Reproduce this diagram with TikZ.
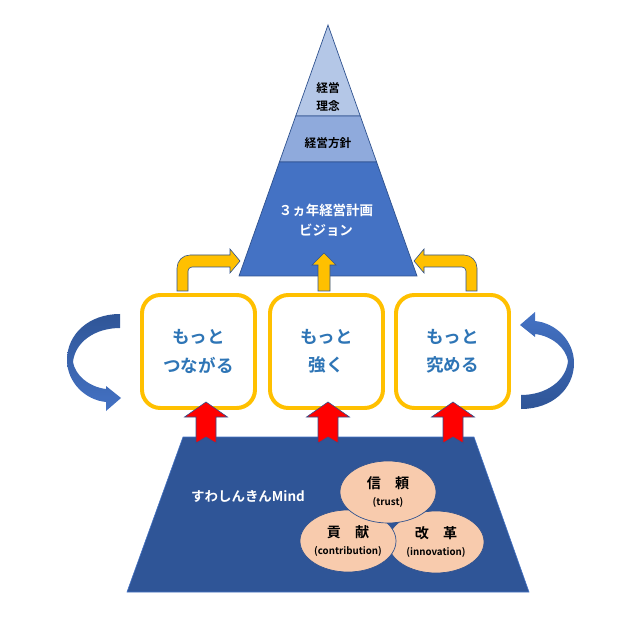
\documentclass[tikz,border=0pt]{standalone}
\usepackage{fontspec}
\newfontfamily\jp{Noto Sans CJK JP}[BoldFont={Noto Sans CJK JP Bold}]
\usetikzlibrary{calc,shapes.geometric}
\definecolor{topblue}{HTML}{B4C7E7}
\definecolor{midblue}{HTML}{8FAADC}
\definecolor{lowblue}{HTML}{4472C4}
\definecolor{navy}{HTML}{2F5597}
\definecolor{edgeblue}{HTML}{2F528F}
\definecolor{gold}{HTML}{FFC000}
\definecolor{boxtext}{HTML}{2E75B6}
\definecolor{peach}{HTML}{F8CBAD}
\tikzset{
  layer/.style={draw=edgeblue, line width=0.6pt},
  goalbox/.style={draw=gold, line width=3.4pt, fill=white, rounded corners=0.55cm,
    minimum width=3.39cm, minimum height=3.39cm, align=center, text=boxtext,
    font=\jp\bfseries\fontsize{15}{24}\selectfont},
  yarrow/.style={fill=gold, draw=edgeblue, line width=0.5pt},
  rarrow/.style={fill=red, draw=edgeblue, line width=0.5pt},
  mindball/.style={ellipse, fill=peach, draw=edgeblue, line width=0.6pt,
    minimum width=2.88cm, minimum height=1.86cm, inner sep=0pt, align=center,
    font=\jp\bfseries\fontsize{12}{14.5}\selectfont}
}
\newcommand\mindsub[1]{{\jp\bfseries\fontsize{8.3}{10}\selectfont #1}}
\begin{document}
\begin{tikzpicture}[x=0.03cm,y=-0.03cm]
\useasboundingbox (0,0) rectangle (640,623);
% base
\draw [fill=navy, draw=lowblue, line width=0.5pt] (183,437) -- (474,437) -- (529,592) -- (127,592) -- cycle;
\node [text=white, font=\jp\bfseries\fontsize{11.5}{14}\selectfont] (mind) at (248,496) {すわしんきんMind};
% pyramid
\coordinate (apex) at (328,25);
\coordinate (bl) at (239,276);
\coordinate (br) at (417,276);
\coordinate (l1) at ($(apex)!0.3625!(bl)$);
\coordinate (r1) at ($(apex)!0.3625!(br)$);
\coordinate (l2) at ($(apex)!0.5458!(bl)$);
\coordinate (r2) at ($(apex)!0.5458!(br)$);
\draw [layer, fill=topblue] (apex) -- (r1) -- (l1) -- cycle;
\draw [layer, fill=midblue] (l1) -- (r1) -- (r2) -- (l2) -- cycle;
\draw [layer, fill=lowblue] (l2) -- (r2) -- (br) -- (bl) -- cycle;
\node [font=\jp\bfseries\fontsize{10}{15.5}\selectfont, align=center] (rinen) at (328,97) {経営\\理念};
\node [font=\jp\bfseries\fontsize{10}{12}\selectfont] (hoshin) at (328,143) {経営方針};
\node [text=white, font=\jp\bfseries\fontsize{11.5}{17}\selectfont, align=center] (vision) at (326,220) {３ヵ年経営計画\\ビジョン};
% yellow arrows
\draw [yarrow] (177,291) -- (177,268) .. controls (177,260.8) and (182.8,255) .. (190,255) -- (230,255) -- (230,249) -- (240,261) -- (230,273) -- (230,267) -- (192,267) .. controls (189.8,267) and (188,268.8) .. (188,271) -- (188,291) -- cycle;
\draw [yarrow] (318,291) -- (318,265) -- (312,265) -- (324,253) -- (336,265) -- (330,265) -- (330,291) -- cycle;
\draw [yarrow] (477,291) -- (477,268) .. controls (477,260.8) and (471.2,255) .. (464,255) -- (424,255) -- (424,249) -- (414,261) -- (424,273) -- (424,267) -- (462,267) .. controls (464.2,267) and (466,268.8) .. (466,271) -- (466,291) -- cycle;
% boxes
\node [goalbox] (tsunagaru) at (198.5,351.5) {もっと\\つながる};
\node [goalbox] (tsuyoku) at (326.5,351.5) {もっと\\強く};
\node [goalbox] (kiwameru) at (452.5,351.5) {もっと\\究める};
% red arrows
\foreach \cx in {206,328,453}
  \draw [rarrow] (\cx-10,443) -- (\cx-10,417) -- (\cx-21.5,417) -- (\cx,402) -- (\cx+21.5,417) -- (\cx+10,417) -- (\cx+10,443) -- (\cx,437) -- cycle;
% mind
\node [mindball] (kaikaku) at (436,542) {改　革\\\mindsub{(innovation)}};
\node [mindball] (kouken) at (348,541) {貢　献\\\mindsub{(contribution)}};
\node [mindball] (shinrai) at (388,492) {信　頼\\\mindsub{(trust)}};
% side arrows
\shade [top color=navy, bottom color=lowblue] (120,314) .. controls (89,314) and (67,334) .. (67,360) .. controls (67,382) and (85,400) .. (106,402) -- (106,411) -- (121,398) -- (106,386) -- (106,389) .. controls (89,387) and (75,375) .. (73,362) .. controls (75,342) and (95,328) .. (120,328) -- cycle;
\shade [top color=lowblue, bottom color=navy] (521,409) .. controls (552,409) and (574,389) .. (574,363) .. controls (574,341) and (556,323) .. (535,321) -- (535,312) -- (520,325) -- (535,337) -- (535,334) .. controls (552,336) and (566,348) .. (568,361) .. controls (566,381) and (546,395) .. (521,395) -- cycle;
\end{tikzpicture}
\end{document}
